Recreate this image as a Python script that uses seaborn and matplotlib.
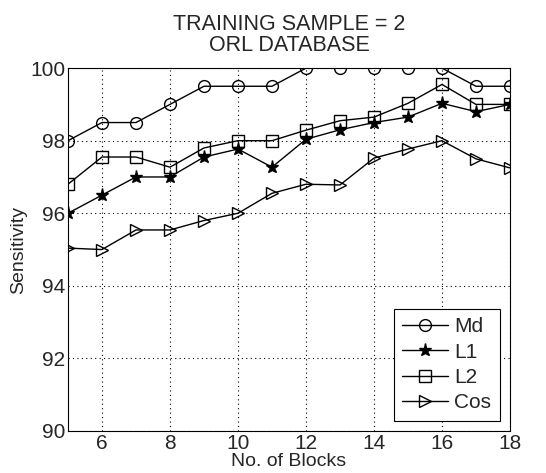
import numpy as np
import matplotlib
matplotlib.use("Agg")
import matplotlib.pyplot as plt
import seaborn as sns

blocks = [5, 6, 7, 8, 9, 10, 11, 12, 13, 14, 15, 16, 17, 18]
md = [98.0, 98.5, 98.5, 99.0, 99.5, 99.5, 99.5, 100.0, 100.0, 100.0, 100.0, 100.0, 99.5, 99.5]
l1 = [96.0, 96.5, 97.0, 97.0, 97.55, 97.77, 97.27, 98.04, 98.3, 98.5, 98.65, 99.03, 98.8, 99.0]
l2 = [96.8, 97.55, 97.55, 97.27, 97.8, 98.0, 98.0, 98.29, 98.55, 98.65, 99.03, 99.55, 99.0, 99.0]
cos = [95.04, 95.0, 95.54, 95.54, 95.8, 96.0, 96.55, 96.8, 96.78, 97.52, 97.77, 98.0, 97.5, 97.25]

series = [("Md", md, "o", "none", 8.5), ("L1", l1, "*", "k", 9.5),
          ("L2", l2, "s", "none", 8), ("Cos", cos, ">", "none", 9)]

sns.set_style("white")
plt.rcParams["font.family"] = ["Liberation Sans", "DejaVu Sans"]

fig = plt.figure(figsize=(5.46, 4.73), dpi=100)
ax = fig.add_axes([0.1245, 0.0888, 0.8095, 0.7672])

for name, vals, mk, fc, size in series:
    sns.lineplot(x=blocks, y=vals, marker=mk, color="k", mfc=fc, mec="k",
                 ms=size, mew=1.0, lw=1.0, label=name, ax=ax)

ax.set_xlim(5, 18)
ax.set_ylim(90, 100)
ax.set_xticks(range(6, 19, 2))
ax.set_yticks(range(90, 101, 2))
ax.grid(True, color="k", linestyle=(0, (1, 3)), linewidth=0.8)
for s in ax.spines.values():
    s.set_color("k")
    s.set_linewidth(0.8)
ax.tick_params(labelsize=15, direction="in", length=4, color="k", pad=2)
ax.set_xlabel("No. of Blocks", fontsize=14, labelpad=0)
ax.set_ylabel("Sensitivity", fontsize=14, labelpad=2)
ax.set_title("TRAINING SAMPLE = 2\nORL DATABASE", fontsize=15.5, linespacing=1.05, pad=12)

leg = ax.legend(loc="lower right", fontsize=15, fancybox=False, framealpha=1,
                edgecolor="k", handlelength=2.2, borderaxespad=0.5, labelspacing=0.3,
                handletextpad=0.3)
leg.get_frame().set_linewidth(0.8)

fig.savefig("out.png", dpi=100)
